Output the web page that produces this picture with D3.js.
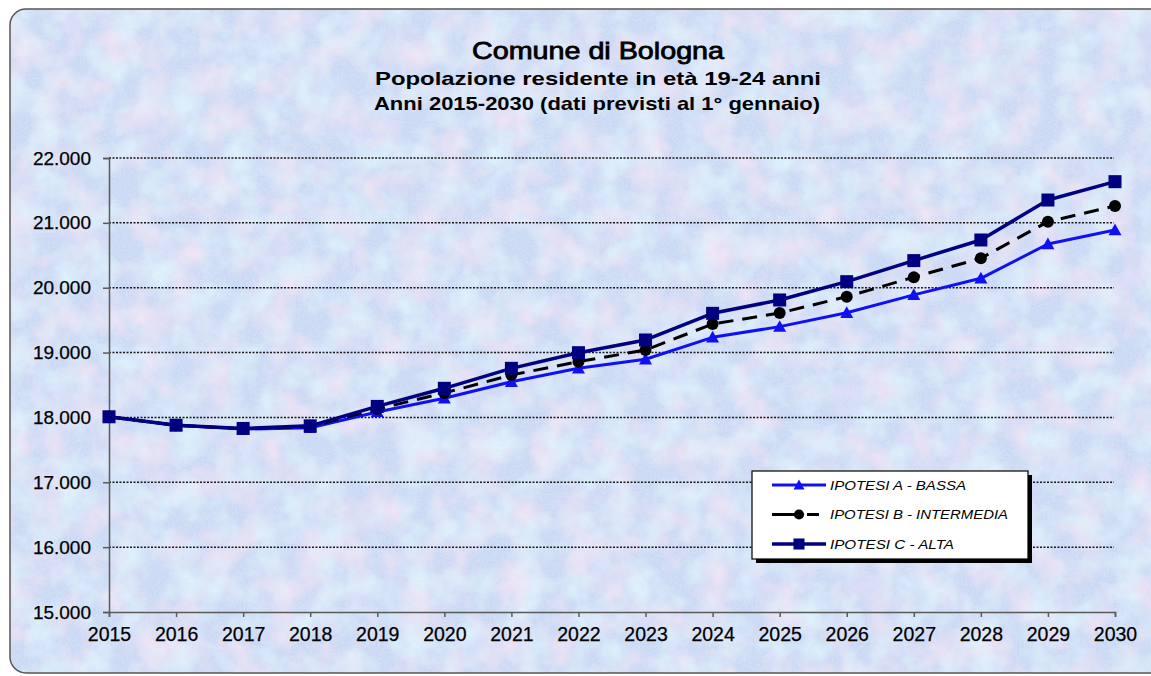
<!DOCTYPE html>
<html>
<head>
<meta charset="utf-8">
<script src="https://cdn.jsdelivr.net/npm/d3@7"></script>
<style>
  body { margin: 0; background: #fff; }
  svg { display: block; font-family: Arial, "Liberation Sans", sans-serif; }
</style>
</head>
<body>
<div id="chart"></div>
<script>
const years = d3.range(2015, 2031);
const ipotesiA = [18010, 17880, 17820, 17840, 18085, 18295, 18550, 18757, 18897, 19235, 19400, 19615, 19890, 20145, 20674, 20890];
const ipotesiB = [18010, 17880, 17825, 17860, 18130, 18377, 18654, 18860, 19040, 19440, 19610, 19862, 20162, 20454, 21018, 21260];
const ipotesiC = [18010, 17880, 17830, 17870, 18170, 18449, 18757, 18998, 19194, 19605, 19811, 20093, 20418, 20736, 21352, 21635];
const yTicks = [15000, 16000, 17000, 18000, 19000, 20000, 21000, 22000];
const titles = [
  'Comune di Bologna',
  'Popolazione residente in età 19-24 anni',
  'Anni 2015-2030 (dati previsti al 1° gennaio)'
];

const series = [
  { name: 'IPOTESI A - BASSA', values: ipotesiA, color: '#1010f5', dash: null, marker: 'triangle', width: 3 },
  { name: 'IPOTESI B - INTERMEDIA', values: ipotesiB, color: '#000000', dash: '15,9', marker: 'circle', width: 3 },
  { name: 'IPOTESI C - ALTA', values: ipotesiC, color: '#000080', dash: null, marker: 'square', width: 3.5 }
];

const width = 1151;
const height = 676;
const plot = { left: 109, right: 1115, top: 158, bottom: 612 };

const svg = d3.select('#chart').append('svg')
  .attr('width', width)
  .attr('height', height);

// textured background
const defs = svg.append('defs');
const tex = defs.append('filter').attr('id', 'marble')
  .attr('x', 0).attr('y', 0).attr('width', '100%').attr('height', '100%');
tex.append('feTurbulence').attr('type', 'fractalNoise')
  .attr('baseFrequency', 0.03).attr('numOctaves', 4).attr('seed', 3).attr('result', 'n1');
tex.append('feColorMatrix').attr('in', 'n1').attr('type', 'matrix')
  .attr('values', '0 0 0 0 0.92  0 0 0 0 0.78  0 0 0 0 0.90  2.0 0 0 0 -0.8')
  .attr('result', 'pink');
tex.append('feTurbulence').attr('type', 'fractalNoise')
  .attr('baseFrequency', 0.035).attr('numOctaves', 4).attr('seed', 11).attr('result', 'n2');
tex.append('feColorMatrix').attr('in', 'n2').attr('type', 'matrix')
  .attr('values', '0 0 0 0 0.74  0 0 0 0 0.91  0 0 0 0 0.98  0 2.0 0 0 -0.8')
  .attr('result', 'cyan');
tex.append('feTurbulence').attr('type', 'fractalNoise')
  .attr('baseFrequency', 0.5).attr('numOctaves', 2).attr('seed', 5).attr('result', 'n3');
tex.append('feColorMatrix').attr('in', 'n3').attr('type', 'matrix')
  .attr('values', '0 0 0 0 0.72  0 0 0 0 0.78  0 0 0 0 0.93  0 0 1.4 0 -0.5')
  .attr('result', 'grain');
const merge = tex.append('feMerge');
merge.append('feMergeNode').attr('in', 'SourceGraphic');
merge.append('feMergeNode').attr('in', 'pink');
merge.append('feMergeNode').attr('in', 'cyan');
merge.append('feMergeNode').attr('in', 'grain');

defs.append('clipPath').attr('id', 'frameClip')
  .append('rect').attr('x', 10).attr('y', 9).attr('width', 1160).attr('height', 664).attr('rx', 16);

svg.append('rect')
  .attr('x', 10).attr('y', 9).attr('width', 1160).attr('height', 664).attr('rx', 16)
  .attr('fill', '#c9d8f4')
  .attr('filter', 'url(#marble)')
  .attr('clip-path', 'url(#frameClip)');

svg.append('rect')
  .attr('x', 10).attr('y', 9).attr('width', 1160).attr('height', 664).attr('rx', 16)
  .attr('fill', 'none')
  .attr('stroke', '#555')
  .attr('stroke-width', 1.5);

// titles
const titleSpec = [
  { y: 59, size: 24, weight: 'normal', len: 252, x: 598 },
  { y: 85, size: 19, weight: 'bold', len: 446, x: 598 },
  { y: 110, size: 19, weight: 'bold', len: 446, x: 597 }
];
titles.forEach((t, i) => {
  const s = titleSpec[i];
  svg.append('text')
    .attr('x', s.x).attr('y', s.y)
    .attr('text-anchor', 'middle')
    .attr('font-size', s.size)
    .attr('font-weight', s.weight)
    .attr('stroke', i === 0 ? '#000' : 'none')
    .attr('stroke-width', i === 0 ? 0.8 : 0)
    .attr('textLength', s.len)
    .attr('lengthAdjust', 'spacingAndGlyphs')
    .attr('fill', '#000')
    .text(t);
});

const x = d3.scaleLinear().domain([2015, 2030]).range([plot.left, plot.right]);
const y = d3.scaleLinear().domain([15000, 22000]).range([plot.bottom, plot.top]);

const fmt = (d) => d3.format(',')(d).replace(/,/g, '.');

// gridlines
svg.append('g')
  .selectAll('line')
  .data(yTicks.filter((d) => d > 15000))
  .join('line')
  .attr('x1', plot.left).attr('x2', plot.right - 1)
  .attr('y1', (d) => y(d)).attr('y2', (d) => y(d))
  .attr('stroke', '#1a1a1a')
  .attr('stroke-width', 1.5)
  .attr('stroke-dasharray', '2,1.5');

// axes
const yAxis = svg.append('g')
  .attr('transform', `translate(${plot.left},0)`)
  .call(d3.axisLeft(y).tickValues(yTicks).tickFormat(fmt).tickSize(6).tickPadding(12));
const xAxis = svg.append('g')
  .attr('transform', `translate(0,${plot.bottom})`)
  .call(d3.axisBottom(x).tickValues(years).tickFormat(d3.format('d')).tickSize(5).tickPadding(10));

[yAxis, xAxis].forEach((g) => {
  g.select('.domain').attr('stroke', '#5a5a5a').attr('stroke-width', 1.5);
  g.selectAll('.tick line').attr('stroke', '#5a5a5a').attr('stroke-width', 1.5);
  g.selectAll('.tick text')
    .attr('font-size', 19)
    .attr('font-family', 'Arial, "Liberation Sans", sans-serif')
    .attr('stroke', '#000')
    .attr('stroke-width', 0.25)
    .attr('fill', '#000');
});
xAxis.selectAll('.tick text').attr('font-size', 19.5);

// markers
function drawMarker(g, type, cx, cy, color, scale = 1) {
  if (type === 'triangle') {
    const s = 6.5 * scale;
    g.append('path')
      .attr('d', `M${cx},${cy - s}L${cx + s},${cy + s * 0.8}L${cx - s},${cy + s * 0.8}Z`)
      .attr('fill', color);
  } else if (type === 'circle') {
    g.append('circle').attr('cx', cx).attr('cy', cy).attr('r', 6 * scale).attr('fill', color);
  } else {
    const s = 6.5 * scale;
    g.append('rect').attr('x', cx - s).attr('y', cy - s)
      .attr('width', 2 * s).attr('height', 2 * s).attr('fill', color);
  }
}

const line = d3.line().x((d, i) => x(years[i])).y((d) => y(d));

series.forEach((s) => {
  const g = svg.append('g');
  g.append('path')
    .datum(s.values)
    .attr('d', line)
    .attr('fill', 'none')
    .attr('stroke', s.color)
    .attr('stroke-width', s.width)
    .attr('stroke-linejoin', 'round')
    .attr('stroke-dasharray', s.dash);
  s.values.forEach((v, i) => drawMarker(g, s.marker, x(years[i]), y(v), s.color));
});

// legend
const legend = svg.append('g').attr('transform', 'translate(752,471)');
legend.append('rect').attr('x', 4).attr('y', 4).attr('width', 276).attr('height', 88).attr('fill', '#000');
legend.append('rect').attr('width', 276).attr('height', 88)
  .attr('fill', '#fff').attr('stroke', '#000').attr('stroke-width', 1.2);
const legendLens = [136, 178, 124];
series.forEach((s, i) => {
  const ry = 14 + i * 29.5;
  legend.append('line')
    .attr('x1', 20).attr('x2', 74)
    .attr('y1', ry).attr('y2', ry)
    .attr('stroke', s.color)
    .attr('stroke-width', s.width)
    .attr('stroke-dasharray', s.dash ? '27,8,12' : null);
  drawMarker(legend, s.marker, 47, ry, s.color, 0.85);
  legend.append('text')
    .attr('x', 78).attr('y', ry + 4.5)
    .attr('font-size', 13)
    .attr('font-style', 'italic')
    .attr('textLength', legendLens[i])
    .attr('lengthAdjust', 'spacingAndGlyphs')
    .attr('fill', '#000')
    .text(s.name);
});
</script>
</body>
</html>
